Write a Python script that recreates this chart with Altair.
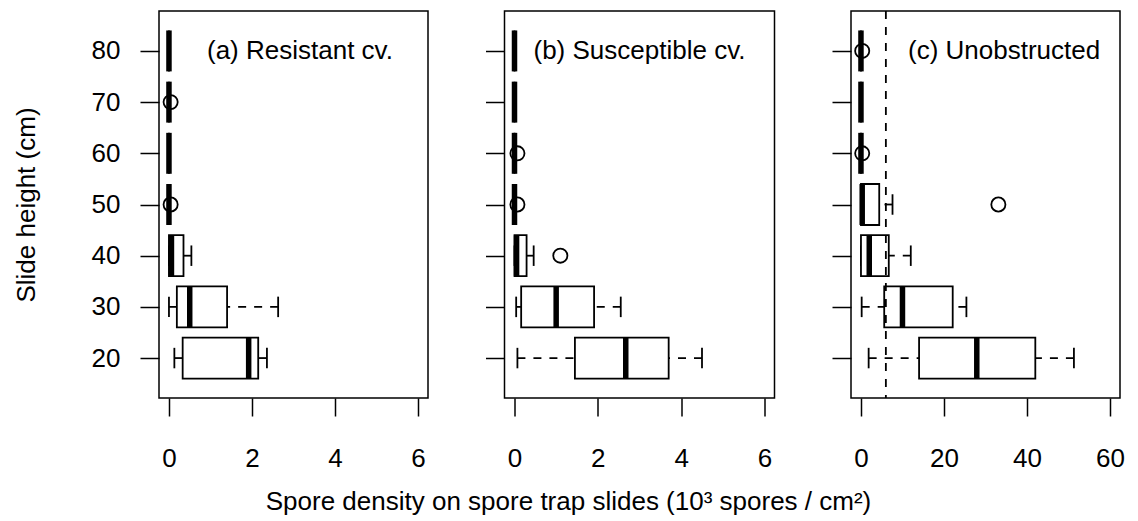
import altair as alt
import pandas as pd

FONT = "Liberation Sans"

heights = [20, 30, 40, 50, 60, 70, 80]
panel_titles = ["(a) Resistant cv.", "(b) Susceptible cv.", "(c) Unobstructed"]

# Panel (a) Resistant cultivar (10^3 spores / cm^2)
a_lo = [0.13, 0.00, 0.00, 0, 0, 0, 0]
a_q1 = [0.33, 0.19, 0.00, 0, 0, 0, 0]
a_med = [1.92, 0.50, 0.06, 0, 0, 0, 0]
a_q3 = [2.15, 1.40, 0.35, 0, 0, 0, 0]
a_hi = [2.36, 2.63, 0.54, 0, 0, 0, 0]
a_out_h = [70, 50]
a_out_v = [0.04, 0.04]

# Panel (b) Susceptible cultivar
b_lo = [0.07, 0.04, 0.00, 0, 0, 0, 0]
b_q1 = [1.45, 0.16, 0.00, 0, 0, 0, 0]
b_med = [2.67, 1.00, 0.05, 0, 0, 0, 0]
b_q3 = [3.70, 1.91, 0.29, 0, 0, 0, 0]
b_hi = [4.50, 2.55, 0.46, 0, 0, 0, 0]
b_out_h = [40, 50, 60]
b_out_v = [1.10, 0.07, 0.07]

# Panel (c) Unobstructed
c_lo = [1.85, 0.17, 0.0, 0.0, 0, 0, 0]
c_q1 = [14.0, 5.6, 0.0, 0.0, 0, 0, 0]
c_med = [27.9, 10.0, 2.0, 0.3, 0, 0, 0]
c_q3 = [42.0, 22.1, 6.7, 4.4, 0, 0, 0]
c_hi = [51.3, 25.4, 12.0, 7.6, 0, 0, 0]
c_out_h = [50, 60, 80]
c_out_v = [33.1, 0.3, 0.3]
c_threshold = [6]

x_ticks_small = [0, 2, 4, 6]
x_ticks_large = [0, 20, 40, 60]
x_title = "Spore density on spore trap slides (10\u00b3 spores / cm\u00b2)"
y_title = "Slide height (cm)"

LW = 1.5   # frame and ticks
MW = 1.8   # box, whiskers, caps, circles
DASH = [8, 8]


def panel(title, lo, q1, med, q3, hi, out_h, out_v, domain, ticks,
          width, show_y, show_xtitle, label_dx, threshold=None):
    df = pd.DataFrame(dict(height=heights, lo=lo, q1=q1, med=med, q3=q3, hi=hi))
    base = alt.Chart(df).transform_calculate(
        c0="datum.height - 2", c1="datum.height + 2",
        b0="datum.height - 4", b1="datum.height + 4")
    xscale = alt.Scale(domain=domain, nice=False, zero=False)
    yscale = alt.Scale(domain=[12.2, 87.8], nice=False, zero=False)

    xaxis_kw = dict(values=ticks, tickSize=18, labelPadding=29, labelFontSize=26,
                    labelFont=FONT, tickWidth=LW, minExtent=0, grid=False, domain=False,
                    tickColor="black", labelColor="black")
    if show_xtitle:
        xaxis = alt.Axis(title=x_title, titleFontSize=26, titleFont=FONT,
                         titleFontWeight="normal", titleX=63.5, titleY=111,
                         titleColor="black",
                         titleBaseline="alphabetic", titleAlign="center", **xaxis_kw)
    else:
        xaxis = alt.Axis(title=None, **xaxis_kw)
    yaxis_kw = dict(values=heights, tickSize=19, tickWidth=LW, minExtent=0, grid=False,
                    domain=False, tickColor="black", labelColor="black")
    if show_y:
        yaxis = alt.Axis(title=y_title, labelPadding=20, labelFontSize=26,
                         labelFont=FONT, titleFontSize=26, titleFont=FONT,
                         titleFontWeight="normal", titleAngle=-90, titleX=-133,
                         titleY=193.5, titleBaseline="middle", titleAlign="center",
                         titleColor="black", **yaxis_kw)
    else:
        yaxis = alt.Axis(title=None, labels=False, **yaxis_kw)

    def X(f):
        return alt.X(f, scale=xscale, axis=xaxis)

    def Y(f):
        return alt.Y(f, scale=yscale, axis=yaxis)

    whisk_lo = base.mark_rule(strokeDash=DASH, strokeWidth=MW, color="black").encode(
        x=X("lo:Q"), x2="q1:Q", y=Y("height:Q"))
    whisk_hi = base.mark_rule(strokeDash=DASH, strokeWidth=MW, color="black").encode(
        x=X("hi:Q"), x2="q3:Q", y=Y("height:Q"))
    cap_lo = base.mark_rule(strokeWidth=MW, color="black").encode(
        x=X("lo:Q"), y=Y("c0:Q"), y2="c1:Q")
    cap_hi = base.mark_rule(strokeWidth=MW, color="black").encode(
        x=X("hi:Q"), y=Y("c0:Q"), y2="c1:Q")
    box = base.mark_rect(fill="white", stroke="black", strokeWidth=MW).encode(
        x=X("q1:Q"), x2="q3:Q", y=Y("b0:Q"), y2="b1:Q")
    median = base.mark_rule(strokeWidth=5.5, color="black", strokeCap="butt").encode(
        x=X("med:Q"), y=Y("b0:Q"), y2="b1:Q")
    odf = pd.DataFrame(dict(height=out_h, v=out_v))
    outl = alt.Chart(odf).mark_point(shape="circle", filled=False, size=200,
                                     strokeWidth=MW, color="black", opacity=1).encode(
        x=X("v:Q"), y=Y("height:Q"))
    layers = [whisk_lo, whisk_hi, cap_lo, cap_hi, box, median, outl]
    if threshold is not None:
        tdf = pd.DataFrame(dict(t=threshold))
        layers.append(alt.Chart(tdf).mark_rule(strokeDash=DASH, strokeWidth=MW,
                                               color="black").encode(x=X("t:Q")))
    tdf2 = pd.DataFrame(dict(label=[title]))
    layers.append(alt.Chart(tdf2).mark_text(align="left", baseline="middle", fontSize=26,
                                            font=FONT, color="black").encode(
        x=alt.value(label_dx), y=alt.value(40), text="label:N"))
    return alt.layer(*layers).properties(width=width, height=387)


pa = panel(panel_titles[0], a_lo, a_q1, a_med, a_q3, a_hi, a_out_h, a_out_v,
           [-0.24, 6.24], x_ticks_small, 269, True, False, 48)
pb = panel(panel_titles[1], b_lo, b_q1, b_med, b_q3, b_hi, b_out_h, b_out_v,
           [-0.24, 6.24], x_ticks_small, 270, False, True, 29)
pc = panel(panel_titles[2], c_lo, c_q1, c_med, c_q3, c_hi, c_out_h, c_out_v,
           [-2.4, 62.4], x_ticks_large, 269, False, False, 57, threshold=c_threshold)

chart = alt.hconcat(pa, pb, pc, spacing=76.5, bounds="flush").properties(
    padding={"left": 4, "top": 1, "right": 4, "bottom": 1}
).configure_view(stroke="black", strokeWidth=LW)

chart.save("out.html", embed_options={"renderer": "svg", "actions": False})
